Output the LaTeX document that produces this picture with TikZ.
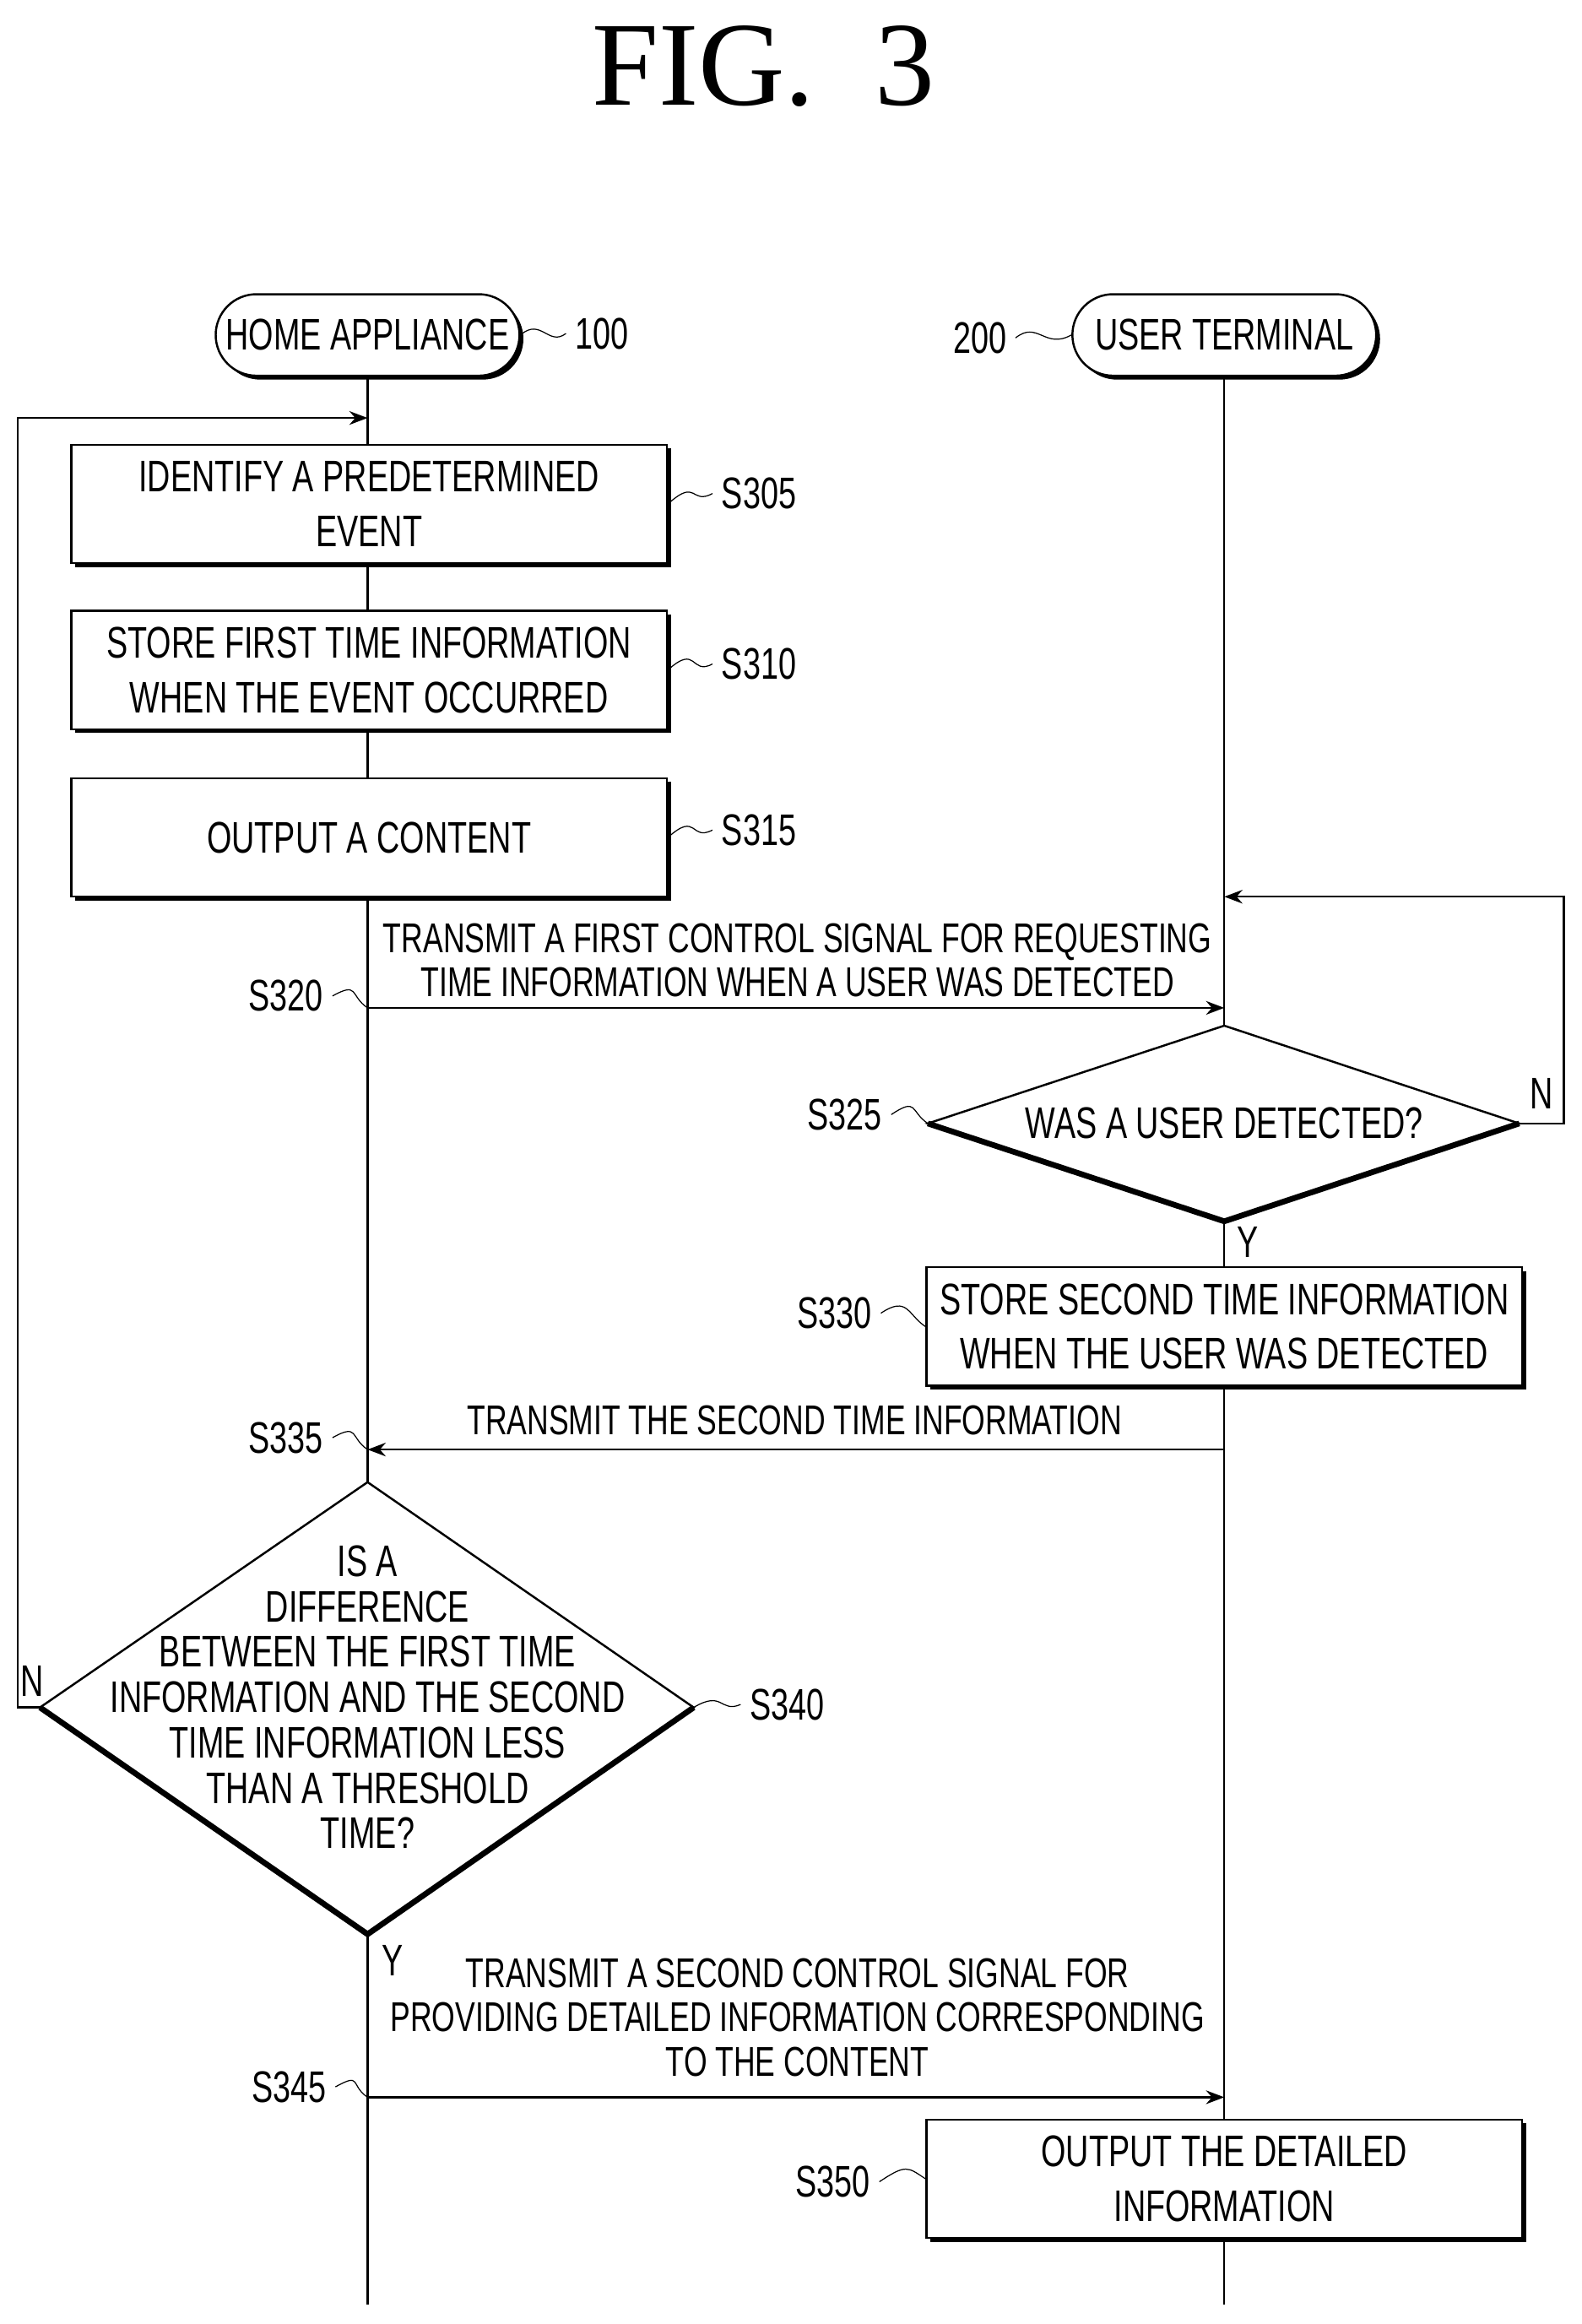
\documentclass[tikz,border=0pt]{standalone}
\usepackage{fontspec}
\setmainfont{Liberation Serif}
\newfontfamily\figfont[FakeStretch=0.72]{Liberation Sans}
\usetikzlibrary{shadows,arrows.meta}
\tikzset{
  every node/.style={font=\figfont\fontsize{17}{21}\selectfont, align=center},
  box/.style={draw, thick, fill=white, minimum width=8.04cm, minimum height=1.6cm, inner sep=0pt,
    drop shadow={shadow xshift=1.5pt, shadow yshift=-1.5pt, fill=black, opacity=1}},
  term/.style={draw, thick, fill=white, rounded corners=0.55cm, minimum width=4.1cm, minimum height=1.1cm,
    drop shadow={shadow xshift=1.5pt, shadow yshift=-1.5pt, fill=black, opacity=1}},
  msg/.style={thick, -{Stealth[length=7pt]}},
  msgtext/.style={font=\figfont\fontsize{16}{17}\selectfont},
  life/.style={thick},
  tilde/.style={thin},
}
\begin{document}
\begin{tikzpicture}[x=0.02cm, y=-0.02cm]
	\useasboundingbox (0,0) rectangle (1067,1568);
	\node[font=\fontsize{46}{50}\selectfont] (title) at (515,45) {FIG.\ \ 3};
	% lifelines
	\node[term] (ha) at (248,226) {HOME APPLIANCE};
	\node[term] (ut) at (826,226) {USER TERMINAL};
	\coordinate (haend) at (248,1555);
	\coordinate (utend) at (826,1555);
	\draw[life] (ha) -- (haend);
	\draw[life] (ut) -- (utend);
	\node (l100) at (406,225) {100};
	\draw[tilde] (ha.east) .. controls (365,214) and (370,234) .. (l100.west);
	\node (l200) at (661,228) {200};
	\draw[tilde] (l200.east) .. controls (700,216) and (705,236) .. (ut.west);
	% home appliance steps
	\node[box] (s305) at (249,340) {IDENTIFY A PREDETERMINED\\EVENT};
	\node[box] (s310) at (249,452) {STORE FIRST TIME INFORMATION\\WHEN THE EVENT OCCURRED};
	\node[box] (s315) at (249,565) {OUTPUT A CONTENT};
	\node (l305) at (512,333) {S305};
	\node (l310) at (512,448) {S310};
	\node (l315) at (512,560) {S315};
	\foreach \s in {305,310,315}
		\draw[tilde] (s\s.east) .. controls +(20,-18) and +(-15,8) .. (l\s.west);
	% S320
	\coordinate (a320) at (248,680);
	\coordinate (b320) at (826,680);
	\draw[msg] (a320) -- (b320);
	\node[msgtext] (t320) at (538,648) {TRANSMIT A FIRST CONTROL SIGNAL FOR REQUESTING\\TIME INFORMATION WHEN A USER WAS DETECTED};
	\node (l320) at (193,672) {S320};
	\draw[tilde] (l320.east) .. controls +(18,-10) and +(-12,-8) .. (a320);
	% S325 diamond
	\coordinate (d1t) at (826,692);
	\coordinate (d1r) at (1025,758);
	\coordinate (d1b) at (826,824);
	\coordinate (d1l) at (626,758);
	\draw[thick, fill=white] (d1t) -- (d1r) -- (d1b) -- (d1l) -- cycle;
	\draw[line width=2.2pt] (d1l) -- (d1b) -- (d1r);
	\node (s325) at (826,758) {WAS A USER DETECTED?};
	\node (l325) at (570,752) {S325};
	\draw[tilde] (l325.east) .. controls +(18,-12) and +(-12,-8) .. (d1l);
	\coordinate (n1a) at (1055,758);
	\coordinate (n1b) at (1055,605);
	\coordinate (n1c) at (826,605);
	\draw[msg] (d1r) -- (n1a) -- (n1b) -- (n1c);
	\node (n1) at (1040,738) {N};
	\node (y1) at (842,838) {Y};
	% S330
	\node[box] (s330) at (826,895) {STORE SECOND TIME INFORMATION\\WHEN THE USER WAS DETECTED};
	\node (l330) at (563,886) {S330};
	\draw[tilde] (l330.east) .. controls +(18,-12) and +(-12,-8) .. (s330.west);
	% S335
	\coordinate (a335) at (826,978);
	\coordinate (b335) at (248,978);
	\draw[msg] (a335) -- (b335);
	\node[msgtext] (t335) at (536,958) {TRANSMIT THE SECOND TIME INFORMATION};
	\node (l335) at (193,970) {S335};
	\draw[tilde] (l335.east) .. controls +(18,-10) and +(-12,-8) .. (b335);
	% S340 diamond
	\coordinate (d2t) at (248,1000);
	\coordinate (d2r) at (468,1152);
	\coordinate (d2b) at (248,1305);
	\coordinate (d2l) at (27,1152);
	\draw[thick, fill=white] (d2t) -- (d2r) -- (d2b) -- (d2l) -- cycle;
	\draw[line width=2.2pt] (d2l) -- (d2b) -- (d2r);
	\node[font=\figfont\fontsize{17}{17.4}\selectfont] (s340) at (248,1145) {IS A\\DIFFERENCE\\BETWEEN THE FIRST TIME\\INFORMATION AND THE SECOND\\TIME INFORMATION LESS\\THAN A THRESHOLD\\TIME?};
	\node (l340) at (531,1150) {S340};
	\draw[tilde] (d2r) .. controls +(20,-12) and +(-14,6) .. (l340.west);
	\coordinate (n2a) at (12,1152);
	\coordinate (n2b) at (12,282);
	\coordinate (n2c) at (248,282);
	\draw[msg] (d2l) -- (n2a) -- (n2b) -- (n2c);
	\node (n2) at (22,1134) {N};
	\node (y2) at (265,1323) {Y};
	% S345
	\coordinate (a345) at (248,1415);
	\coordinate (b345) at (826,1415);
	\draw[msg] (a345) -- (b345);
	\node[msgtext] (t345) at (538,1361) {TRANSMIT A SECOND CONTROL SIGNAL FOR\\PROVIDING DETAILED INFORMATION CORRESPONDING\\TO THE CONTENT};
	\node (l345) at (195,1408) {S345};
	\draw[tilde] (l345.east) .. controls +(18,-10) and +(-12,-8) .. (a345);
	% S350
	\node[box] (s350) at (826,1470) {OUTPUT THE DETAILED\\INFORMATION};
	\node (l350) at (562,1472) {S350};
	\draw[tilde] (l350.east) .. controls +(18,-12) and +(-12,-8) .. (s350.west);
\end{tikzpicture}
\end{document}
